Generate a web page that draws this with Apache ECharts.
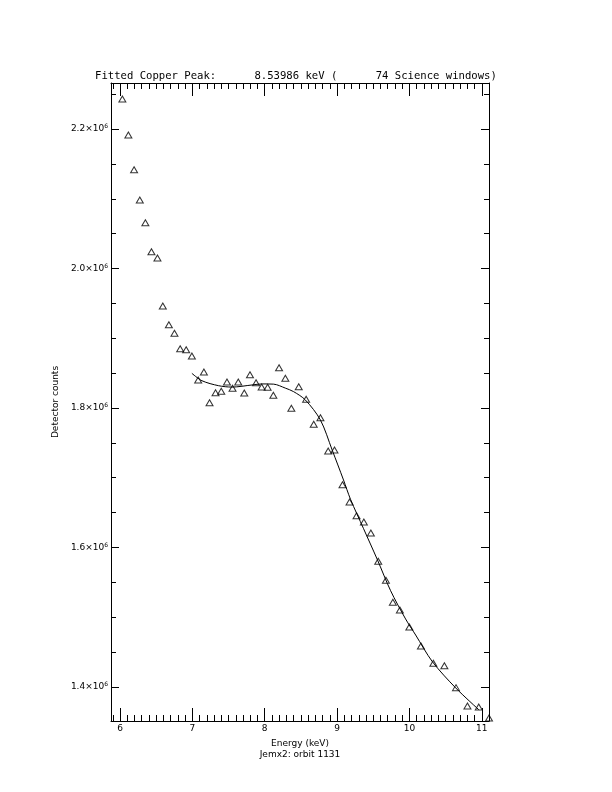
<!DOCTYPE html>
<html>
<head>
<meta charset="utf-8">
<script src="https://cdn.jsdelivr.net/npm/echarts@6/dist/echarts.min.js"></script>
<style>
  html, body { margin: 0; padding: 0; background: #fff; }
  #chart { width: 612px; height: 792px; }
</style>
</head>
<body>
<div id="chart"></div>
<script>
// ---- data ----
var energy = [6.032, 6.115, 6.194, 6.273, 6.350, 6.434, 6.517, 6.591, 6.675, 6.752,
              6.831, 6.914, 6.993, 7.080, 7.159, 7.237, 7.320, 7.399, 7.478, 7.555,
              7.634, 7.717, 7.796, 7.880, 7.957, 8.040, 8.119, 8.198, 8.285, 8.368,
              8.470, 8.572, 8.677, 8.770, 8.877, 8.964, 9.075, 9.172, 9.269, 9.370,
              9.467, 9.569, 9.675, 9.771, 9.868, 9.999, 10.159, 10.331, 10.483, 10.644,
              10.802, 10.958, 11.100];
var counts = [2.2430e6, 2.1914e6, 2.1416e6, 2.0982e6, 2.0657e6, 2.0241e6, 2.0151e6, 1.9462e6, 1.9194e6, 1.9071e6,
              1.8850e6, 1.8836e6, 1.8746e6, 1.8401e6, 1.8516e6, 1.8076e6, 1.8219e6, 1.8239e6, 1.8373e6, 1.8282e6,
              1.8373e6, 1.8215e6, 1.8477e6, 1.8363e6, 1.8301e6, 1.8297e6, 1.8182e6, 1.8578e6, 1.8426e6, 1.7996e6,
              1.8305e6, 1.8125e6, 1.7766e6, 1.7861e6, 1.7383e6, 1.7398e6, 1.6900e6, 1.6652e6, 1.6456e6, 1.6366e6,
              1.6208e6, 1.5802e6, 1.5530e6, 1.5214e6, 1.5104e6, 1.4860e6, 1.4588e6, 1.4340e6, 1.4305e6, 1.3990e6,
              1.3728e6, 1.3713e6, 1.3556e6];
var fitEnergy = [6.993, 7.132, 7.361, 7.547, 7.824, 7.963, 8.123, 8.285, 8.400, 8.562,
                 8.770, 8.932, 9.089, 9.186, 9.366, 9.555, 9.740, 9.947, 10.086, 10.317,
                 10.640, 10.963];
var fitCounts = [1.8497e6, 1.8391e6, 1.8320e6, 1.8300e6, 1.8330e6, 1.8345e6, 1.8342e6, 1.8285e6, 1.8234e6, 1.8115e6,
                 1.7828e6, 1.7398e6, 1.6968e6, 1.6690e6, 1.6270e6, 1.5830e6, 1.5380e6, 1.4975e6, 1.4745e6, 1.4363e6,
                 1.3986e6, 1.3670e6];
var xTicks = [6, 7, 8, 9, 10, 11];
var xTickLabels = ['6', '7', '8', '9', '10', '11'];
var yTicks = [1.4e6, 1.6e6, 1.8e6, 2.0e6, 2.2e6];
var yTickLabels = ['1.4×10^6', '1.6×10^6', '1.8×10^6', '2.0×10^6', '2.2×10^6'];
var titleText = 'Fitted Copper Peak:      8.53986 keV (      74 Science windows)';
var xTitle = 'Energy (keV)';
var xSubTitle = 'Jemx2: orbit 1131';
var yTitle = 'Detector counts';

// ---- layout ----
var X_MIN = 5.875, X_MAX = 11.1;
var Y_MIN = 1.3512e6, Y_MAX = 2.2660e6;
var xMinor = [], yMinor = [];
for (var i = 59; i <= 111; i++) { if (i % 10 !== 0) xMinor.push(i / 10); }
for (var j = 28; j <= 45; j++) { if (j % 4 !== 0) yMinor.push(j * 0.05e6); }

var scatterData = energy.map(function (e, k) { return [e, counts[k]]; });
var fitData = fitEnergy.map(function (e, k) { return [e, fitCounts[k]]; });

var FONT = 'DejaVu Sans';
var black = '#000';

function xAx(pos, ticks, len, showLine, showLabel) {
  return {
    type: 'value', position: pos, min: X_MIN, max: X_MAX,
    axisLine: { show: showLine, onZero: false, lineStyle: { color: black, width: 1 } },
    axisTick: { show: true, inside: true, length: len, customValues: ticks, lineStyle: { color: black, width: 1 } },
    axisLabel: showLabel ? {
      show: true, customValues: xTicks, margin: 3, color: black, fontFamily: FONT, fontSize: 9,
      formatter: function (v) { var k = xTicks.indexOf(v); return k >= 0 ? xTickLabels[k] : ''; }
    } : { show: false },
    splitLine: { show: false },
    name: showLabel ? xTitle + '\n' + xSubTitle : '',
    nameLocation: 'middle', nameGap: 8,
    nameTextStyle: { color: black, fontFamily: FONT, fontSize: 9, lineHeight: 11 }
  };
}
function yAx(pos, ticks, len, showLine, showLabel) {
  return {
    type: 'value', position: pos, min: Y_MIN, max: Y_MAX,
    axisLine: { show: showLine, onZero: false, lineStyle: { color: black, width: 1 } },
    axisTick: { show: true, inside: true, length: len, customValues: ticks, lineStyle: { color: black, width: 1 } },
    axisLabel: showLabel ? {
      show: true, customValues: yTicks, margin: 3, color: black, fontFamily: FONT, fontSize: 9,
      formatter: function (v) {
        var k = -1;
        for (var q = 0; q < yTicks.length; q++) { if (Math.abs(yTicks[q] - v) < 1) k = q; }
        if (k < 0) return '';
        var parts = yTickLabels[k].split('^');
        return '{b|' + parts[0] + '}{s|' + parts[1] + '}';
      },
      rich: {
        b: { fontSize: 9, fontFamily: FONT, color: black },
        s: { fontSize: 6, fontFamily: FONT, color: black, padding: [0, 0, 5, 0] }
      }
    } : { show: false },
    splitLine: { show: false },
    name: showLabel ? yTitle : '',
    nameLocation: 'middle', nameGap: 43, nameRotate: 90,
    nameTextStyle: { color: black, fontFamily: FONT, fontSize: 9 }
  };
}

var chart = echarts.init(document.getElementById('chart'), null, { renderer: 'canvas' });
chart.setOption({
  backgroundColor: '#fff',
  animation: false,
  title: {
    text: titleText, left: 90, top: 66,
    textStyle: { fontFamily: 'DejaVu Sans Mono', fontSize: 10.6, fontWeight: 'normal', color: black }
  },
  grid: { left: 111, right: 123, top: 83, bottom: 71, containLabel: false },
  xAxis: [
    xAx('bottom', xTicks, 13, true, true),
    xAx('bottom', xMinor, 6, false, false),
    xAx('top', xTicks, 13, true, false),
    xAx('top', xMinor, 6, false, false)
  ],
  yAxis: [
    yAx('left', yTicks, 8, true, true),
    yAx('left', yMinor, 5, false, false),
    yAx('right', yTicks, 8, true, false),
    yAx('right', yMinor, 5, false, false)
  ],
  series: [
    {
      type: 'scatter', xAxisIndex: 0, yAxisIndex: 0, data: scatterData,
      symbol: 'triangle', symbolSize: [7, 6],
      itemStyle: { color: 'rgba(0,0,0,0)', borderColor: black, borderWidth: 1 },
      clip: true
    },
    {
      type: 'line', xAxisIndex: 0, yAxisIndex: 0, data: fitData,
      smooth: 0.3, showSymbol: false, symbol: 'none',
      lineStyle: { color: black, width: 1 }, clip: true
    }
  ]
});
</script>
</body>
</html>
